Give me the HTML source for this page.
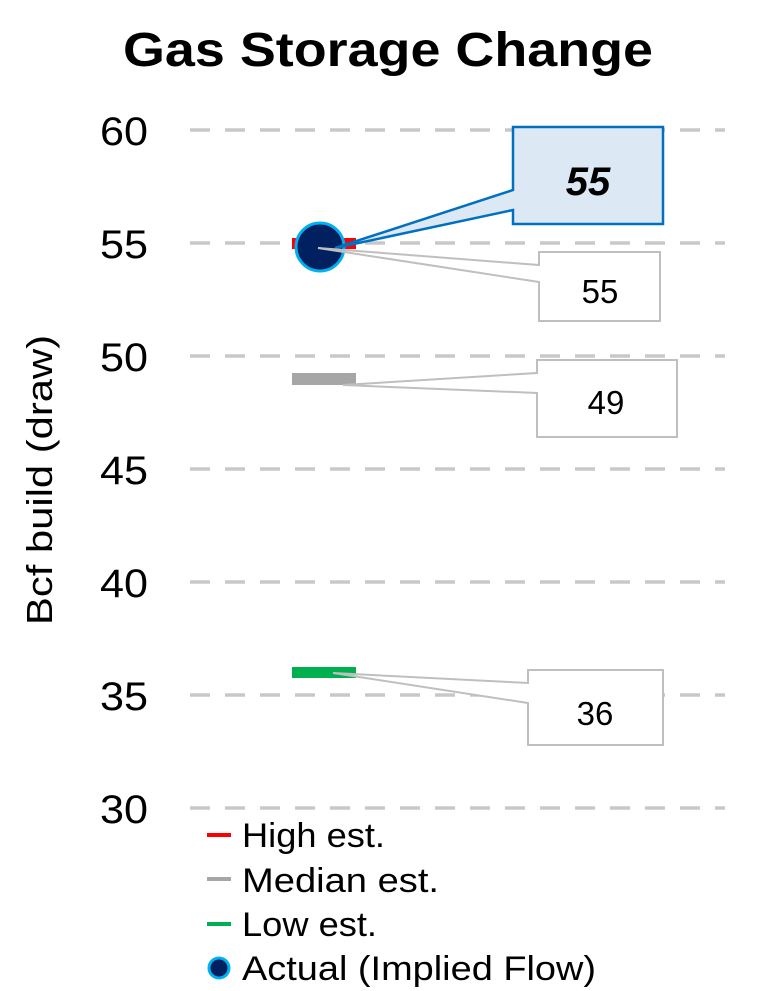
<!DOCTYPE html>
<html><head><style>html,body{margin:0;padding:0;background:#fff}svg{display:block}</style></head>
<body>
<svg width="776" height="991" viewBox="0 0 776 991" xmlns="http://www.w3.org/2000/svg" font-family="Liberation Sans, sans-serif">
<rect width="776" height="991" fill="#fff"/>
<text x="388" y="66" text-anchor="middle" font-size="48" font-weight="bold" textLength="530" lengthAdjust="spacingAndGlyphs">Gas Storage Change</text>
<g stroke="#c8c8c8" stroke-width="3.5" stroke-dasharray="20,15">
<line x1="190" y1="130" x2="725" y2="130"/>
<line x1="190" y1="243" x2="725" y2="243"/>
<line x1="190" y1="356" x2="725" y2="356"/>
<line x1="190" y1="469" x2="725" y2="469"/>
<line x1="190" y1="582" x2="725" y2="582"/>
<line x1="190" y1="695" x2="725" y2="695"/>
<line x1="190" y1="808" x2="725" y2="808"/>
</g>
<g font-size="40" text-anchor="end">
<text x="148" y="145" textLength="48" lengthAdjust="spacingAndGlyphs">60</text><text x="148" y="258" textLength="48" lengthAdjust="spacingAndGlyphs">55</text><text x="148" y="371" textLength="48" lengthAdjust="spacingAndGlyphs">50</text>
<text x="148" y="484" textLength="48" lengthAdjust="spacingAndGlyphs">45</text><text x="148" y="597" textLength="48" lengthAdjust="spacingAndGlyphs">40</text><text x="148" y="710" textLength="48" lengthAdjust="spacingAndGlyphs">35</text><text x="148" y="823" textLength="48" lengthAdjust="spacingAndGlyphs">30</text>
</g>
<text transform="translate(52,480) rotate(-90)" text-anchor="middle" font-size="36" textLength="290" lengthAdjust="spacingAndGlyphs">Bcf build (draw)</text>
<rect x="292" y="238" width="64" height="11" fill="#ff0000"/>
<rect x="292" y="373" width="64" height="12" fill="#a6a6a6"/>
<rect x="292" y="667" width="64" height="11" fill="#00b050"/>
<circle cx="320" cy="247" r="24" fill="#002060" stroke="#00b0f0" stroke-width="3"/>
<path d="M513,127 H663 V224 H513 V210 L335,248 L513,190 Z" fill="#dde8f5" stroke="#0070c0" stroke-width="2.5"/>
<text x="588" y="195" text-anchor="middle" font-size="40" font-weight="bold" font-style="italic">55</text>
<path d="M539,252 H660 V321 H539 V282 L318,248 L539,265 Z" fill="#fff" stroke="#bfbfbf" stroke-width="2"/>
<text x="600" y="303" text-anchor="middle" font-size="33">55</text>
<path d="M537,360 H677 V437 H537 V393 L343,385 L537,373 Z" fill="#fff" stroke="#bfbfbf" stroke-width="2"/>
<text x="606" y="414" text-anchor="middle" font-size="33">49</text>
<path d="M528,670 H663 V745 H528 V703 L333,673 L528,683 Z" fill="#fff" stroke="#bfbfbf" stroke-width="2"/>
<text x="595" y="725" text-anchor="middle" font-size="33">36</text>
<line x1="207" y1="835" x2="231" y2="835" stroke="#ff0000" stroke-width="4"/>
<line x1="207" y1="879" x2="231" y2="879" stroke="#a6a6a6" stroke-width="4"/>
<line x1="207" y1="924" x2="231" y2="924" stroke="#00b050" stroke-width="4"/>
<circle cx="219" cy="968" r="10" fill="#002060" stroke="#00b0f0" stroke-width="3"/>
<g font-size="34">
<text x="242" y="847" textLength="143" lengthAdjust="spacingAndGlyphs">High est.</text>
<text x="242" y="892" textLength="197" lengthAdjust="spacingAndGlyphs">Median est.</text>
<text x="242" y="936" textLength="135" lengthAdjust="spacingAndGlyphs">Low est.</text>
<text x="242" y="980" textLength="354" lengthAdjust="spacingAndGlyphs">Actual (Implied Flow)</text>
</g>
</svg>
</body></html>
